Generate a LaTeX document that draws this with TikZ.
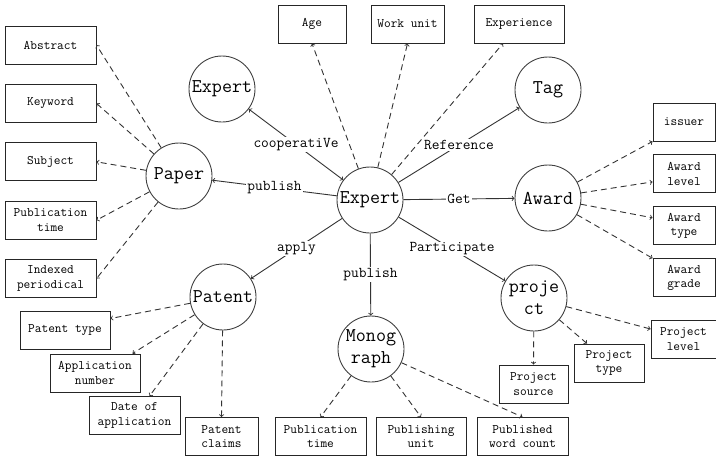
\documentclass[tikz,border=0pt]{standalone}
\usetikzlibrary{positioning}

\begin{document}
\begin{tikzpicture}[x=1pt,y=-1pt,line width=0.9pt,
    entity/.style={circle,draw=black!75,minimum size=66pt,inner sep=0pt,align=center,
        font=\ttfamily\fontsize{19.5}{22}\selectfont},
    attr/.style={rectangle,draw=black!85,minimum height=38pt,inner sep=1pt,align=center,
        font=\ttfamily\fontsize{13}{14.5}\selectfont},
    rel/.style={fill=white,inner sep=1pt,font=\ttfamily\fontsize{15}{15}\selectfont},
    attrlink/.style={->,draw=black!80,dash pattern=on 6pt off 4pt},
    node distance=19.5pt]
            \useasboundingbox (0,0) rectangle (716,458);
            % entities
            \node[entity] (Expert) at (370,200) {Expert};
            \node[entity] (Partner) at (222,89) {Expert};
            \node[entity] (Paper) at (179,176) {Paper};
            \node[entity] (Tag) at (548,90) {Tag};
            \node[entity] (Award) at (548,198) {Award};
            \node[entity] (Patent) at (223,297) {Patent};
            \node[entity] (Mono) at (371,349) {Monog\\raph};
            \node[entity] (Proj) at (534,298) {proje\\ct};
            % paper attributes
            \node[attr,minimum width=91pt] (abstract) at (50.5,45) {Abstract};
            \node[attr,minimum width=91pt] (keyword) [below=of abstract] {Keyword};
            \node[attr,minimum width=91pt] (subject) [below=of keyword] {Subject};
            \node[attr,minimum width=91pt] (pubtime) [below=of subject] {Publication\\time};
            \node[attr,minimum width=91pt] (indexed) [below=of pubtime] {Indexed\\periodical};
            % expert attributes
            \node[attr,minimum width=68pt] (age) at (312,24) {Age};
            \node[attr,minimum width=73pt] (workunit) at (407.5,24) {Work unit};
            \node[attr,minimum width=90pt] (experience) at (519,24) {Experience};
            % award attributes
            \node[attr,minimum width=62pt] (issuer) at (684,122) {issuer};
            \node[attr,minimum width=62pt] (awardlevel) [below=13pt of issuer] {Award\\level};
            \node[attr,minimum width=62pt] (awardtype) [below=13pt of awardlevel] {Award\\type};
            \node[attr,minimum width=62pt] (awardgrade) [below=13pt of awardtype] {Award\\grade};
            % patent attributes
            \node[attr,minimum width=90pt] (patenttype) at (65,330.5) {Patent type};
            \node[attr,minimum width=90pt] (appnumber) at (95,373) {Application\\number};
            \node[attr,minimum width=91pt] (appdate) at (134.5,415.5) {Date of\\application};
            \node[attr,minimum width=73pt] (claims) at (221.5,436.5) {Patent\\claims};
            % monograph attributes
            \node[attr,minimum width=91pt] (monotime) at (320.5,436.5) {Publication\\time};
            \node[attr,minimum width=90pt] (pubunit) at (421,436.5) {Publishing\\unit};
            \node[attr,minimum width=91pt] (wordcount) at (522.5,436.5) {Published\\word count};
            % project attributes
            \node[attr,minimum width=69pt] (projsource) at (533.5,384) {Project\\source};
            \node[attr,minimum width=70pt] (projtype) at (609,363) {Project\\type};
            \node[attr,minimum width=65pt] (projlevel) at (683.5,339) {Project\\level};
            % relations
            \path[<->,draw=black!80] (Expert) edge node[rel]{cooperatiVe} (Partner);
            \path[->,draw=black!80] (Expert) edge node[rel]{publish} (Paper);
            \path[->,draw=black!80] (Expert) edge node[rel]{Reference} (Tag);
            \path[->,draw=black!80] (Expert) edge node[rel]{Get} (Award);
            \path[->,draw=black!80] (Expert) edge node[rel]{apply} (Patent);
            \path[->,draw=black!80] (Expert) edge node[rel]{publish} (Mono);
            \path[->,draw=black!80] (Expert) edge node[rel]{Participate} (Proj);
            % attribute links
            \path[attrlink] (Paper) edge (abstract.east) edge (keyword.east) edge (subject.east)
                edge (pubtime.east) edge (indexed.east);
            \path[attrlink] (Expert) edge (age.south) edge (workunit.south)
                edge ([xshift=-16pt]experience.south);
            \path[attrlink] (Award) edge (issuer.south west) edge ([yshift=-8pt]awardlevel.west)
                edge ([yshift=8pt]awardtype.west) edge (awardgrade.north west);
            \path[attrlink] (Patent) edge ([yshift=12pt]patenttype.east)
                edge ([xshift=-8pt]appnumber.north east) edge ([xshift=15pt]appdate.north)
                edge (claims.north);
            \path[attrlink] (Mono) edge (monotime.north) edge (pubunit.north) edge (wordcount.north);
            \path[attrlink] (Proj) edge (projsource.north) edge ([xshift=-22pt]projtype.north)
                edge ([yshift=10pt]projlevel.west);
        \end{tikzpicture}
\end{document}
